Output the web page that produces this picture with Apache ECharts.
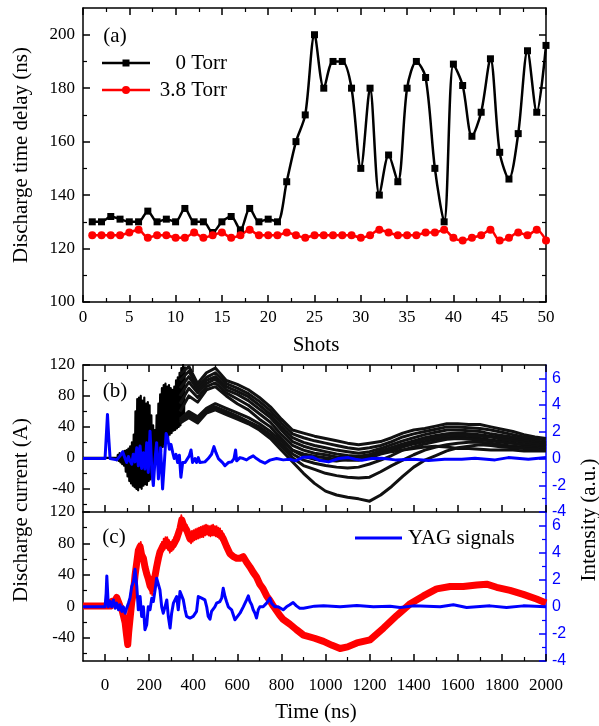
<!DOCTYPE html>
<html>
<head>
<meta charset="utf-8">
<title>Discharge delay and current</title>
<script src="https://cdn.jsdelivr.net/npm/echarts@6/dist/echarts.min.js"></script>
<style>
  html, body { margin: 0; padding: 0; background: #fff; }
  #chart { width: 599px; height: 726px; }
</style>
</head>
<body>
<div id="chart"></div>
<script>
// ---- (a) discharge time delay per shot ----
const shots = [1, 2, 3, 4, 5, 6, 7, 8, 9, 10, 11, 12, 13, 14, 15, 16, 17, 18, 19, 20,
  21, 22, 23, 24, 25, 26, 27, 28, 29, 30, 31, 32, 33, 34, 35, 36, 37, 38, 39, 40,
  41, 42, 43, 44, 45, 46, 47, 48, 49, 50]
const torr0 = [130, 130, 132, 131, 130, 130, 134, 130, 131, 130,
  135, 130, 130, 126, 130, 132, 127, 135, 130, 131,
  130, 145, 160, 170, 200, 180, 190, 190, 180, 150,
  180, 140, 155, 145, 180, 190, 184, 150, 130, 189,
  181, 162, 171, 191, 156, 146, 163, 194, 171, 196]
const torr38 = [125, 125, 125, 125, 126, 127, 124, 125, 125, 124,
  124, 126, 124, 125, 126, 124, 125, 127, 125, 125,
  125, 126, 125, 124, 125, 125, 125, 125, 125, 124,
  125, 127, 126, 125, 125, 125, 126, 126, 127, 124,
  123, 124, 125, 127, 123, 124, 126, 125, 127, 123]

// tick labels
const shotTicks = [0, 5, 10, 15, 20, 25, 30, 35, 40, 45, 50]
const shotMinor = [2.5, 7.5, 12.5, 17.5, 22.5, 27.5, 32.5, 37.5, 42.5, 47.5]
const delayTicks = [100, 120, 140, 160, 180, 200]
const delayMinor = [110, 130, 150, 170, 190]
const timeTicks = [0, 200, 400, 600, 800, 1000, 1200, 1400, 1600, 1800, 2000]
const timeMinor = [100, 300, 500, 700, 900, 1100, 1300, 1500, 1700, 1900]
const currentTicks = [-40, 0, 40, 80, 120]
const currentMinor = [-60, -20, 20, 60, 100]
const intensityTicks = [-4, -2, 0, 2, 4, 6]
const intensityMinor = [-3, -1, 1, 3, 5]

// ---- (b) 0 Torr: discharge current of many shots [ns, A] ----
// early noisy part of the whole bundle
const bundleNoise = [[-100, 0], [48, 0], [50, 2], [54, -3], [58, 4], [62, -4], [66, 6], [70, -6], [74, 5], [78, -8],
  [82, 8], [86, -10], [90, 9], [94, -18], [98, 10], [102, -24], [106, 12], [110, -30], [114, 15], [118, -33],
  [122, 20], [126, -36], [130, 30], [134, -38], [138, 60], [142, -40], [146, 76], [150, -42], [154, 78], [158, -38],
  [162, 80], [166, -40], [170, 74], [174, -36], [178, 78], [182, -34], [186, 70], [190, -35], [194, 72], [198, -30],
  [202, 68], [206, -28], [210, 55], [214, -22], [218, 42], [222, -15], [226, 36], [230, -8], [234, 55], [238, -2],
  [242, 70], [246, 5], [250, 82], [254, 8], [258, 90], [262, 14], [266, 94], [270, 18], [274, 96], [278, 22],
  [282, 92], [286, 26], [290, 94], [294, 30], [298, 90], [302, 32], [306, 88], [310, 35], [314, 92], [318, 36],
  [322, 100], [326, 38], [330, 104], [334, 40], [338, 110], [342, 42], [346, 116], [350, 46], [354, 120], [358, 50],
  [362, 118]]
// later part, one row per shot
const bundleTime = [340, 380, 420, 460, 500, 550, 600, 650, 700, 750, 800, 850, 900, 950, 1000,
  1050, 1100, 1150, 1200, 1250, 1300, 1350, 1400, 1450, 1500, 1550, 1600, 1650, 1700, 1750, 1800, 1850, 1900, 1950, 2000]
const shot1 = [108, 118, 96, 110, 116, 100, 95, 88, 78, 66, 50, 36, 32, 28, 25,
  22, 19, 17, 19, 21, 26, 32, 36, 38, 41, 44, 44, 43, 43, 40, 37, 34, 30, 27, 25]
const shot2 = [100, 112, 92, 104, 110, 96, 90, 83, 73, 61, 45, 31, 26, 22, 19,
  16, 13, 11, 13, 16, 21, 27, 31, 34, 37, 40, 40, 39, 38, 36, 33, 30, 27, 25, 23]
const shot3 = [90, 105, 88, 100, 105, 92, 86, 79, 68, 56, 40, 26, 20, 16, 13,
  10, 8, 6, 8, 12, 17, 22, 26, 30, 33, 36, 36, 35, 34, 31, 29, 27, 24, 22, 20]
const shot4 = [80, 98, 84, 96, 102, 88, 82, 74, 63, 52, 36, 21, 15, 11, 8,
  5, 3, 2, 4, 8, 13, 18, 22, 26, 29, 31, 32, 31, 30, 28, 26, 24, 22, 20, 18]
const shot5 = [70, 90, 78, 92, 97, 84, 76, 68, 57, 46, 30, 16, 10, 6, 4,
  1, 0, -1, 1, 6, 10, 14, 18, 21, 24, 26, 27, 26, 25, 23, 21, 19, 17, 15, 14]
const shot6 = [60, 80, 72, 88, 92, 80, 70, 62, 50, 40, 25, 10, 5, 2, 0,
  -2, -3, -3, 0, 5, 8, 10, 12, 14, 15, 14, 12, 12, 11, 10, 10, 10, 9, 9, 9]
const shot7 = [50, 60, 53, 64, 70, 64, 58, 52, 44, 34, 22, 10, 2, -2, -3,
  -4, -2, 0, 4, 9, 13, 17, 20, 24, 27, 29, 30, 29, 28, 27, 24, 22, 20, 18, 16]
const shot8 = [48, 57, 50, 62, 66, 60, 54, 47, 40, 30, 18, 5, -3, -7, -10,
  -12, -13, -12, -8, -3, 3, 10, 14, 18, 21, 24, 25, 24, 23, 22, 20, 19, 17, 15, 14]
const shot9 = [46, 55, 48, 60, 64, 58, 52, 45, 38, 28, 15, 0, -10, -15, -20,
  -23, -25, -26, -25, -18, -10, -3, 4, 10, 14, 17, 19, 20, 20, 19, 17, 15, 14, 13, 12]
const shot10 = [45, 52, 45, 58, 62, 56, 50, 44, 36, 25, 10, -5, -20, -33, -43,
  -48, -51, -53, -56, -48, -37, -24, -12, -3, 3, 9, 13, 15, 17, 16, 14, 13, 12, 11, 10]

// YAG signal in (b) [ns, a.u.]
const yagB = [[-100, 0], [0, 0], [5, 1.5], [11, 3.3], [17, 1.5], [23, 0], [53, -0.1], [68, 0.2], [80, 0.5], [91, 0],
  [98, -0.3], [106, 0.15], [113, -0.17], [121, -0.42], [128, 0.32], [136, -0.25], [144, 0.81], [151, -0.54],
  [159, 0.94], [166, -0.74], [174, 0.44], [181, -0.79], [189, 1.19], [196, -1.04], [204, 2.05], [212, -0.79],
  [219, -2.02], [227, 0], [234, 1.19], [242, -1.53], [252, 0.81], [261, -2.27], [269, -0.3], [277, 1.88],
  [284, 1.56], [292, 0.69], [299, 1.06], [307, 0.44], [314, 0], [322, 0.32], [329, -0.3], [337, 0.25],
  [344, -1.4], [352, -0.3], [363, -0.3], [370, -0.17], [382, 0.2], [390, 0.64], [397, -0.3], [408, 0],
  [415, -0.3], [423, 0.07], [430, -0.3], [438, -0.17], [453, -0.25], [468, 0], [483, 0.32], [494, 0.89],
  [503, 0.44], [514, 0], [533, -0.3], [544, -0.54], [559, -0.3], [574, -0.25], [585, 0], [592, 0.64],
  [597, -0.17], [612, 0.07], [627, 0], [642, -0.1], [657, 0.07], [672, 0.2], [680, 0.3], [687, 0],
  [702, -0.17], [725, -0.35], [748, -0.12], [778, 0], [808, -0.1], [838, -0.05], [863, -0.17], [900, 0.1],
  [938, 0.12], [975, -0.15], [1014, -0.25], [1060, 0], [1104, 0.07], [1135, -0.05], [1165, -0.12], [1210, 0],
  [1255, 0.02], [1316, -0.1], [1400, -0.05], [1467, -0.15], [1540, -0.05], [1618, -0.05], [1678, 0.02],
  [1769, -0.1], [1829, 0.07], [1920, -0.05], [2000, 0.07]]

// ---- (c) 3.8 Torr ----
const currentC = [[-100, 0], [25, 0], [30, 6], [45, 7], [53, 11], [68, 0], [76, -4], [83, -12], [91, -21], [98, -38],
  [103, -49], [107, -34], [113, -17], [121, 5], [129, 18], [136, 39], [144, 56], [151, 71], [159, 76], [166, 65],
  [174, 61], [181, 50], [189, 41], [196, 35], [204, 26], [212, 22], [219, 24], [227, 39], [234, 50], [242, 61],
  [249, 69], [265, 78], [280, 82], [295, 74], [310, 78], [325, 86], [340, 99], [348, 110], [355, 104], [370, 97],
  [385, 86], [400, 89], [415, 91], [431, 93], [446, 94], [461, 97], [476, 95], [491, 97], [506, 95], [521, 93],
  [536, 86], [551, 76], [566, 67], [582, 63], [597, 61], [612, 61], [627, 63], [642, 56], [657, 50], [672, 43],
  [687, 37], [702, 28], [717, 22], [733, 13], [748, 7], [763, 0], [778, -6], [793, -12], [808, -17], [838, -23],
  [868, -30], [900, -37], [950, -41], [991, -45], [1030, -50], [1066, -54], [1100, -52], [1142, -47], [1202, -43],
  [1263, -28], [1323, -12], [1384, 3], [1444, 13], [1504, 22], [1565, 25], [1625, 25], [1686, 27], [1731, 28],
  [1776, 24], [1837, 20], [1897, 15], [1957, 9], [2000, 4]]
const currentCNoise = [[90, -10], [95, -34], [100, -30], [103, -52], [106, -20], [110, -38], [114, -4], [118, -24],
  [122, 14], [126, 0], [130, 28], [134, 14], [138, 50], [142, 36], [146, 66], [150, 52], [154, 80], [158, 64],
  [162, 82], [166, 58], [170, 72], [174, 52], [178, 66], [182, 42], [186, 54], [190, 32], [194, 46], [198, 26],
  [202, 36], [206, 16], [210, 30], [214, 14], [218, 32], [222, 20], [226, 46], [230, 34], [234, 58], [238, 44],
  [242, 70], [246, 56], [250, 76], [254, 64], [258, 82], [262, 70], [266, 86], [270, 72], [274, 88], [278, 74],
  [282, 88], [286, 72], [290, 84], [294, 68], [298, 82], [302, 70], [306, 84], [310, 72], [314, 88], [318, 76],
  [322, 92], [326, 80], [330, 96], [334, 86], [338, 104], [342, 92], [346, 116], [350, 100], [354, 110], [358, 96],
  [362, 106], [366, 94], [370, 104], [374, 90], [378, 96], [382, 82], [386, 94], [390, 80], [394, 96], [398, 82],
  [402, 97], [406, 84], [410, 98], [414, 85], [418, 99], [422, 86], [426, 100], [430, 87], [434, 101], [438, 88],
  [442, 102], [446, 88], [450, 103], [454, 90], [458, 104], [462, 91], [466, 103], [470, 90], [474, 102], [478, 89],
  [482, 103], [486, 90], [490, 104], [494, 90], [498, 102], [502, 89], [506, 102], [510, 88], [514, 100], [518, 86],
  [522, 99], [526, 84], [530, 96], [534, 80], [538, 92], [542, 76]]
const yagC = [[-100, 0], [0, 0], [5, 1.0], [8, 2.28], [12, 1.0], [15, 0], [23, 0.39], [30, 0], [38, 0.51], [46, -0.1],
  [53, 0.27], [61, -0.22], [68, 0.15], [76, -0.34], [83, 0], [91, -0.47], [98, -0.1], [106, 0.27], [113, 0.64],
  [121, 1.5], [129, 1.87], [136, 2.77], [144, 1.5], [151, -0.22], [159, 0.76], [166, -0.71], [174, 0], [181, -1.69],
  [189, -1.32], [196, 0], [204, -0.22], [212, 0.64], [219, 0.39], [227, 1.25], [234, 2.11], [242, 2.23], [249, 1.25],
  [257, 0], [264, -0.47], [272, 0], [280, 0.51], [287, -0.71], [295, -1.57], [302, -0.47], [310, 0.27], [317, 0.39],
  [325, 0.76], [332, -0.22], [340, 1.13], [347, 1.25], [355, 0.51], [363, -0.22], [370, -0.71], [378, -0.83],
  [385, -0.83], [400, -0.71], [415, -0.34], [423, 0.76], [431, 0.81], [438, 0.64], [446, 0.76], [453, 0.51], [461, 0],
  [468, -0.71], [476, -0.91], [483, -0.34], [491, -0.22], [498, 0], [506, 0.27], [521, 0.39], [529, 0.64], [536, 1.37],
  [544, 0.76], [551, 0.39], [559, 0], [574, -0.22], [589, -0.96], [597, -0.96], [612, -0.47], [627, 0], [642, 0.51],
  [650, 0.81], [657, 0.39], [665, 0.15], [672, -0.22], [680, -0.47], [687, -0.83], [695, -0.22], [702, 0], [717, 0],
  [733, 0.27], [748, 0.64], [755, 0.27], [770, 0], [785, 0], [793, -0.1], [808, -0.22], [823, 0], [838, 0.15],
  [853, 0.32], [868, 0.07], [883, -0.1], [900, -0.1], [950, 0.05], [991, 0.07], [1066, 0], [1142, 0.1], [1217, 0],
  [1293, 0.05], [1338, -0.05], [1399, 0.07], [1520, 0], [1580, 0.15], [1640, -0.05], [1746, 0.07], [1821, -0.05],
  [1897, 0.07], [2000, 0]]

const SERIF = 'Liberation Serif'
const BLUE = '#0000ff'
const RED = '#ff0000'

const chart = echarts.init(document.getElementById('chart'))

// one axis = a visible line with labels/major ticks + an overlay for minor ticks
function makeAxis(grid, pos, range, major, minor, color, labels, labelStyle) {
  const main = {
    type: 'value', gridIndex: grid, position: pos, min: range[0], max: range[1],
    axisLine: { show: true, onZero: false, lineStyle: { color, width: 1.5 } },
    axisTick: { show: true, inside: true, length: 7, customValues: major, lineStyle: { color, width: 1.5 } },
    axisLabel: labels ? Object.assign({ show: true, customValues: labels, formatter: v => String(v) }, labelStyle) : { show: false },
    splitLine: { show: false }
  }
  const sub = {
    type: 'value', gridIndex: grid, position: pos, min: range[0], max: range[1],
    axisLine: { show: false, onZero: false },
    axisTick: { show: true, inside: true, length: 4, customValues: minor, lineStyle: { color, width: 1.2 } },
    axisLabel: { show: false },
    splitLine: { show: false }
  }
  return [main, sub]
}

const serifLabel = (margin) => ({ color: '#000', fontFamily: SERIF, fontSize: 17, margin })
const blueLabel = { color: BLUE, fontFamily: 'Liberation Sans', fontSize: 16, margin: 6 }

const xAxes = [].concat(
  makeAxis(0, 'bottom', [0, 50], shotTicks, shotMinor, '#000', shotTicks, serifLabel(7)), // 0,1
  makeAxis(0, 'top', [0, 50], shotTicks, shotMinor, '#000'), // 2,3
  makeAxis(1, 'bottom', [-100, 2000], timeTicks, timeMinor, '#000'), // 4,5
  makeAxis(1, 'top', [-100, 2000], timeTicks, timeMinor, '#000'), // 6,7
  makeAxis(2, 'bottom', [-100, 2000], timeTicks, timeMinor, '#000', timeTicks, serifLabel(16)) // 8,9
)
const yAxes = [].concat(
  makeAxis(0, 'left', [100, 210], delayTicks, delayMinor, '#000', delayTicks, serifLabel(8)), // 0,1
  makeAxis(0, 'right', [100, 210], delayTicks, delayMinor, '#000'), // 2,3
  makeAxis(1, 'left', [-70, 120], currentTicks, currentMinor, '#000', currentTicks, serifLabel(8)), // 4,5
  makeAxis(1, 'right', [-4, 7], intensityTicks, intensityMinor, BLUE, intensityTicks, blueLabel), // 6,7
  makeAxis(2, 'left', [-70, 120], currentTicks, currentMinor, '#000', currentTicks, serifLabel(8)), // 8,9
  makeAxis(2, 'right', [-4, 7], intensityTicks, intensityMinor, BLUE, intensityTicks, blueLabel) // 10,11
)

function wave(data, x, y, color, width) {
  return {
    type: 'line', xAxisIndex: x, yAxisIndex: y, data, showSymbol: false, symbol: 'none',
    lineStyle: { color, width, join: 'round' }, silent: true
  }
}

const shotRows = [shot1, shot2, shot3, shot4, shot5, shot6, shot7, shot8, shot9, shot10]

const series = [
  {
    name: '0 Torr', type: 'line', xAxisIndex: 0, yAxisIndex: 0,
    data: shots.map((s, i) => [s, torr0[i]]),
    symbol: 'rect', symbolSize: 7, smooth: 0.3,
    lineStyle: { color: '#000', width: 2.5 }, itemStyle: { color: '#000' }
  },
  {
    name: '3.8 Torr', type: 'line', xAxisIndex: 0, yAxisIndex: 0,
    data: shots.map((s, i) => [s, torr38[i]]),
    symbol: 'circle', symbolSize: 8, smooth: 0.3,
    lineStyle: { color: RED, width: 2.5 }, itemStyle: { color: RED }
  },
  wave(bundleNoise, 4, 4, '#000', 2.2)
]
shotRows.forEach(row => {
  series.push(wave(bundleTime.map((t, i) => [t, row[i]]), 4, 4, '#111', 3))
})
series.push(wave(yagB, 4, 6, BLUE, 3))
series.push(wave(currentC, 8, 8, RED, 7))
series.push(wave(currentCNoise, 8, 8, RED, 1.8))
series.push(wave(yagC, 8, 10, BLUE, 3))

function label(text, x, y, opts) {
  opts = opts || {}
  return {
    type: 'text', x, y, rotation: opts.vertical ? Math.PI / 2 : 0, silent: true, z: 100,
    style: {
      text, fill: '#000', font: '21px "Liberation Serif"',
      align: opts.align || 'center', verticalAlign: 'middle'
    }
  }
}

chart.setOption({
  animation: false,
  backgroundColor: '#fff',
  grid: [
    { left: 83, top: 8, width: 463, height: 294, outerBoundsMode: 'none' },
    { left: 83, top: 365, width: 463, height: 147, outerBoundsMode: 'none' },
    { left: 83, top: 512, width: 463, height: 149, outerBoundsMode: 'none' }
  ],
  xAxis: xAxes,
  yAxis: yAxes,
  series,
  graphic: [
    label('Discharge time delay (ns)', 21, 155, { vertical: true }),
    label('Discharge current (A)', 21, 510, { vertical: true }),
    label('Intensity (a.u.)', 589, 520, { vertical: true }),
    label('Shots', 316, 345),
    label('Time (ns)', 316, 712),
    label('(a)', 115, 36),
    label('(b)', 115, 391),
    label('(c)', 114, 537),
    // legend of (a)
    { type: 'line', shape: { x1: 102, y1: 63, x2: 150, y2: 63 }, style: { stroke: '#000', lineWidth: 2.5 }, silent: true },
    { type: 'rect', shape: { x: 122.5, y: 59.5, width: 7, height: 7 }, style: { fill: '#000' }, silent: true },
    label('0 Torr', 227, 63, { align: 'right' }),
    { type: 'line', shape: { x1: 102, y1: 90, x2: 150, y2: 90 }, style: { stroke: RED, lineWidth: 2.5 }, silent: true },
    { type: 'circle', shape: { cx: 126, cy: 90, r: 4 }, style: { fill: RED }, silent: true },
    label('3.8 Torr', 227, 90, { align: 'right' }),
    // legend of (c)
    { type: 'line', shape: { x1: 355, y1: 538, x2: 402, y2: 538 }, style: { stroke: BLUE, lineWidth: 3 }, silent: true },
    label('YAG signals', 408, 538, { align: 'left' })
  ]
})
</script>
</body>
</html>
